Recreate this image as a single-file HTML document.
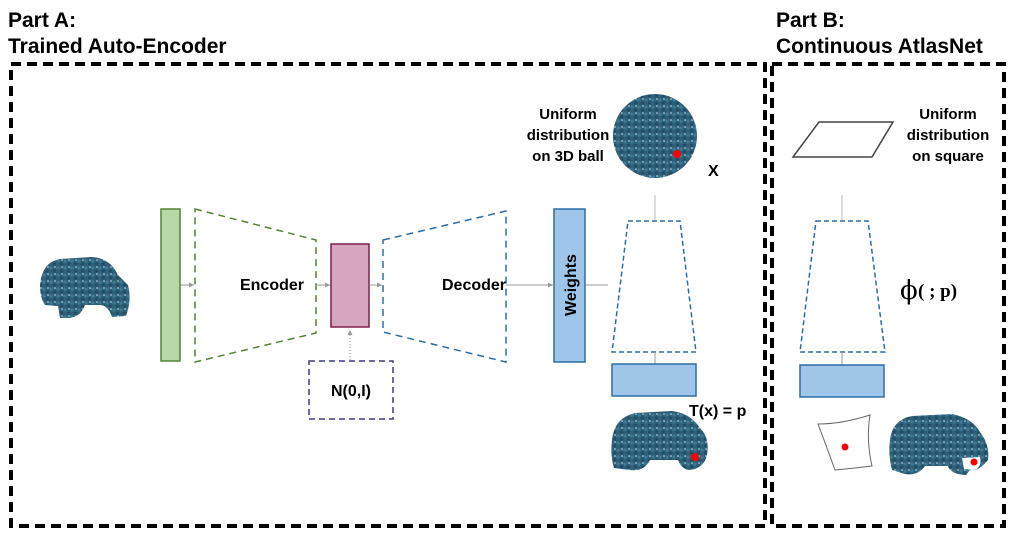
<!DOCTYPE html>
<html><head><meta charset="utf-8"><style>
html,body{margin:0;padding:0;background:#fff;}
svg{display:block}
text{font-family:"Liberation Sans",Arial,sans-serif;font-weight:bold;fill:#000}
</style></head><body>
<svg width="1017" height="537" viewBox="0 0 1017 537" xmlns="http://www.w3.org/2000/svg">
<defs>
<pattern id="pc" width="7" height="7" patternUnits="userSpaceOnUse">
<rect width="7" height="7" fill="#2d5f78"/>
<circle cx="2" cy="2" r="1.6" fill="#3f7a94"/>
<circle cx="5.5" cy="5" r="1.4" fill="#1f4a5f"/>
<circle cx="6" cy="1" r="0.8" fill="#fff" opacity="0.8"/>
</pattern>
<marker id="ar" markerWidth="6" markerHeight="6" refX="5" refY="3" orient="auto"><path d="M0,0.5 L5,3 L0,5.5z" fill="#999"/></marker>
</defs>

<text x="8" y="27" font-size="21">Part A:</text>
<text x="8" y="53" font-size="21">Trained Auto-Encoder</text>
<text x="776" y="27" font-size="21">Part B:</text>
<text x="776" y="53" font-size="21">Continuous AtlasNet</text>

<rect x="11" y="64" width="754" height="462" fill="none" stroke="#000" stroke-width="4" stroke-dasharray="10,6"/>
<rect x="772" y="64" width="232" height="462" fill="none" stroke="#000" stroke-width="4" stroke-dasharray="10,6"/>

<path d="M40,285 Q42,262 60,259 L92,257 Q110,258 118,275 L128,285 Q132,300 126,316 L112,317 Q108,305 100,305 L85,305 Q80,318 68,318 L60,318 L58,306 L45,305 Q40,298 40,285z" fill="url(#pc)"/>

<line x1="180" y1="285" x2="194" y2="285" stroke="#999" stroke-width="1" marker-end="url(#ar)"/>
<rect x="161" y="209" width="19" height="152" fill="#b7d9a8" stroke="#548235" stroke-width="1.5"/>
<polygon points="195,209 316,240 316,333 195,362" fill="none" stroke="#548235" stroke-width="1.5" stroke-dasharray="7,5"/>
<text x="272" y="290" font-size="16" text-anchor="middle">Encoder</text>
<line x1="316" y1="285" x2="330" y2="285" stroke="#999" stroke-width="1" marker-end="url(#ar)"/>
<rect x="331" y="244" width="38" height="83" fill="#d5a6bd" stroke="#7b1f4b" stroke-width="1.5"/>
<line x1="350" y1="360" x2="350" y2="330" stroke="#999" stroke-width="1" stroke-dasharray="1,2" marker-end="url(#ar)"/>
<rect x="309" y="361" width="84" height="58" fill="none" stroke="#3f3a8a" stroke-width="1.5" stroke-dasharray="6,4"/>
<text x="351" y="396" font-size="16" text-anchor="middle">N(0,I)</text>
<line x1="369" y1="285" x2="382" y2="285" stroke="#999" stroke-width="1" marker-end="url(#ar)"/>
<polygon points="383,240 506,211 506,362 383,332" fill="none" stroke="#2e6da4" stroke-width="1.5" stroke-dasharray="7,5"/>
<text x="474" y="290" font-size="16" text-anchor="middle">Decoder</text>
<line x1="506" y1="285" x2="553" y2="285" stroke="#999" stroke-width="1" marker-end="url(#ar)"/>
<rect x="554" y="209" width="31" height="153" fill="#9fc5e8" stroke="#2e6da4" stroke-width="1.5"/>
<text x="0" y="0" font-size="16" text-anchor="middle" transform="translate(576,285) rotate(-90)">Weights</text>
<line x1="585" y1="285" x2="608" y2="285" stroke="#999" stroke-width="1"/>

<circle cx="655" cy="136" r="42" fill="url(#pc)"/>
<circle cx="677" cy="154" r="4" fill="#f00"/>
<text font-size="15" text-anchor="middle"><tspan x="568" y="119">Uniform</tspan><tspan x="568" y="140">distribution</tspan><tspan x="568" y="161">on 3D ball</tspan></text>
<text x="708" y="176" font-size="16">X</text>
<line x1="655" y1="195" x2="655" y2="220" stroke="#bbb" stroke-width="1"/>
<polygon points="628,221 680,221 696,352 612,352" fill="none" stroke="#2e6da4" stroke-width="1.5" stroke-dasharray="5,3"/>
<line x1="655" y1="352" x2="655" y2="364" stroke="#999" stroke-width="1"/>
<rect x="612" y="364" width="84" height="32" fill="#9fc5e8" stroke="#2e6da4" stroke-width="1.5"/>
<text x="689" y="416" font-size="16">T(x) = p</text>
<path d="M612,440 Q614,418 635,413 L672,411 Q690,413 700,428 Q710,438 707,455 Q704,468 690,470 Q682,470 678,460 L650,460 Q644,472 630,470 L614,468 Q610,455 612,440z" fill="url(#pc)"/>
<circle cx="695" cy="457" r="4" fill="#f00"/>

<polygon points="793,157 819,122 893,122 872,157" fill="none" stroke="#444" stroke-width="1.5"/>
<text font-size="15" text-anchor="middle"><tspan x="948" y="119">Uniform</tspan><tspan x="948" y="140">distribution</tspan><tspan x="948" y="161">on square</tspan></text>
<line x1="842" y1="195" x2="842" y2="220" stroke="#bbb" stroke-width="1"/>
<polygon points="816,221 868,221 885,352 800,352" fill="none" stroke="#2e6da4" stroke-width="1.5" stroke-dasharray="5,3"/>
<line x1="842" y1="352" x2="842" y2="365" stroke="#999" stroke-width="1"/>
<rect x="800" y="365" width="84" height="32" fill="#9fc5e8" stroke="#2e6da4" stroke-width="1.5"/>
<text x="900" y="299" font-size="26" style="font-family:'DejaVu Serif','Liberation Serif',serif;font-weight:normal">ϕ</text>
<text x="918" y="297" font-size="19" style="font-family:'Liberation Serif',serif">( ; p)</text>
<path d="M818,424 Q842,424 870,415 Q866,440 872,466 Q856,468 835,470 Q826,445 818,424z" fill="#fff" stroke="#666" stroke-width="1"/>
<circle cx="845" cy="447" r="3.5" fill="#f00"/>
<path d="M890,440 Q892,420 912,416 L952,414 Q972,418 980,432 Q990,445 988,460 Q978,472 970,470 L966,475 Q950,474 948,466 L925,466 Q918,476 905,474 L892,470 Q888,455 890,440z" fill="url(#pc)"/>
<path d="M962,458 L980,457 Q982,468 974,470 L964,469z" fill="#fff"/>
<circle cx="974" cy="462" r="3.5" fill="#f00"/>
</svg>
</body></html>
